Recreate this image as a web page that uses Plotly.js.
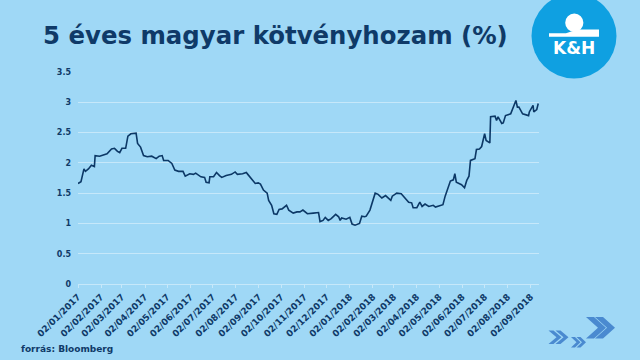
<!DOCTYPE html>
<html>
<head>
<meta charset="utf-8">
<script src="https://cdn.plot.ly/plotly-3.0.1.min.js"></script>
<style>
  html, body { margin: 0; padding: 0; background: #9fd8f6; }
  #chart { width: 640px; height: 360px; }
</style>
</head>
<body>
<div id="chart"></div>
<script>
// ---- data ----
const dates = [
  '2017-01-02','2017-01-06','2017-01-10','2017-01-12','2017-01-16','2017-01-20','2017-01-24','2017-01-25','2017-01-31',
  '2017-02-07','2017-02-10','2017-02-16','2017-02-20','2017-02-24','2017-02-27',
  '2017-03-02','2017-03-07','2017-03-10','2017-03-14','2017-03-21','2017-03-23','2017-03-27','2017-03-31',
  '2017-04-05','2017-04-11','2017-04-17','2017-04-21','2017-04-25','2017-04-27',
  '2017-05-03','2017-05-08','2017-05-12','2017-05-17','2017-05-23','2017-05-26',
  '2017-06-01','2017-06-06','2017-06-09','2017-06-16','2017-06-21','2017-06-23','2017-06-27','2017-06-28',
  '2017-07-03','2017-07-07','2017-07-11','2017-07-14','2017-07-20','2017-07-27',
  '2017-08-01','2017-08-04','2017-08-11','2017-08-16','2017-08-18','2017-08-24','2017-08-28',
  '2017-09-01','2017-09-04','2017-09-08','2017-09-13','2017-09-15','2017-09-19','2017-09-22','2017-09-26','2017-09-29',
  '2017-10-03','2017-10-09','2017-10-12','2017-10-18','2017-10-23','2017-10-27','2017-10-31',
  '2017-11-06','2017-11-09','2017-11-14','2017-11-21','2017-11-23','2017-11-27','2017-11-30',
  '2017-12-04','2017-12-08','2017-12-14','2017-12-18','2017-12-20','2017-12-22','2017-12-28',
  '2018-01-02','2018-01-05','2018-01-09','2018-01-15','2018-01-18','2018-01-22','2018-01-24','2018-01-29','2018-01-31',
  '2018-02-02','2018-02-05','2018-02-09','2018-02-14','2018-02-19','2018-02-22','2018-02-26','2018-02-28',
  '2018-03-06','2018-03-12','2018-03-16','2018-03-22','2018-03-26','2018-03-28',
  '2018-04-02','2018-04-06','2018-04-09','2018-04-13','2018-04-18','2018-04-24','2018-04-27',
  '2018-05-03','2018-05-07','2018-05-10','2018-05-14','2018-05-17','2018-05-21','2018-05-23','2018-05-25','2018-05-29',
  '2018-06-01','2018-06-05','2018-06-08','2018-06-11','2018-06-13','2018-06-19','2018-06-21','2018-06-25','2018-06-28',
  '2018-07-02','2018-07-04','2018-07-09','2018-07-10','2018-07-16','2018-07-18','2018-07-20','2018-07-25','2018-07-27','2018-07-30',
  '2018-08-06','2018-08-09','2018-08-13','2018-08-15','2018-08-17','2018-08-22','2018-08-28','2018-08-30','2018-08-31',
  '2018-09-05','2018-09-06','2018-09-10','2018-09-12'
];
const yields = [
  1.66,1.69,1.90,1.86,1.90,1.96,1.94,2.12,2.11,
  2.13,2.15,2.23,2.24,2.19,2.17,
  2.24,2.24,2.44,2.48,2.49,2.32,2.26,2.12,
  2.10,2.11,2.07,2.11,2.12,2.04,
  2.04,1.99,1.88,1.86,1.86,1.78,
  1.82,1.81,1.83,1.77,1.76,1.68,1.67,1.77,
  1.77,1.84,1.79,1.76,1.79,1.81,
  1.85,1.81,1.82,1.84,1.81,1.71,1.66,
  1.67,1.65,1.55,1.50,1.38,1.30,1.16,1.15,1.23,
  1.24,1.30,1.22,1.17,1.19,1.19,1.22,
  1.16,1.16,1.17,1.18,1.03,1.05,1.10,
  1.05,1.08,1.15,1.11,1.05,1.09,1.07,
  1.10,0.99,0.97,1.00,1.12,1.11,1.12,1.22,1.30,
  1.41,1.50,1.48,1.42,1.46,1.42,1.38,1.45,
  1.50,1.49,1.44,1.35,1.34,1.26,
  1.26,1.35,1.28,1.32,1.28,1.30,1.27,
  1.30,1.31,1.45,1.60,1.70,1.72,1.82,1.68,1.66,
  1.64,1.59,1.71,1.78,2.04,2.07,2.22,2.23,2.27,
  2.48,2.37,2.33,2.76,2.77,2.70,2.76,2.65,2.66,2.78,
  2.81,2.91,3.03,2.92,2.92,2.81,2.78,2.78,2.84,
  2.95,2.84,2.88,2.98
];
const tickDates = [
  '2017-01-02','2017-02-02','2017-03-02','2017-04-02','2017-05-02','2017-06-02','2017-07-02',
  '2017-08-02','2017-09-02','2017-10-02','2017-11-02','2017-12-02','2018-01-02','2018-02-02',
  '2018-03-02','2018-04-02','2018-05-02','2018-06-02','2018-07-02','2018-08-02','2018-09-02'
];
const tickLabels = [
  '02/01/2017','02/02/2017','02/03/2017','02/04/2017','02/05/2017','02/06/2017','02/07/2017',
  '02/08/2017','02/09/2017','02/10/2017','02/11/2017','02/12/2017','02/01/2018','02/02/2018',
  '02/03/2018','02/04/2018','02/05/2018','02/06/2018','02/07/2018','02/08/2018','02/09/2018'
];
const titleText = '5 éves magyar kötvényhozam (%)';
const sourceText = 'forrás: Bloomberg';

// ---- layout helpers (pixel -> paper) ----
const W = 640, H = 360, L = 78, R = 101, T = 72, B = 76;
const PW = W - L - R, PH = H - T - B;
const px = x => (x - L) / PW;
const py = y => (H - B - y) / PH;
function pathOf(pts) {
  return 'M' + pts.map(p => px(p[0]).toFixed(5) + ',' + py(p[1]).toFixed(5)).join(' L') + ' Z';
}
function chevron(x0, y0, w, h, t) {
  return pathOf([[x0, y0], [x0 + t, y0], [x0 + w, y0 + h / 2], [x0 + t, y0 + h], [x0, y0 + h], [x0 + w - t, y0 + h / 2]]);
}

const navy = '#0f3a68';
const grid = '#c6e8fa';
const bg = '#9fd8f6';
const arrowBlue = '#4a8ad0';
const fontFam = 'DejaVu Sans, Verdana, sans-serif';

const shapes = [
  {type: 'circle', xref: 'paper', yref: 'paper', x0: px(531.5), x1: px(616.5), y0: py(78.5), y1: py(-6.5),
   fillcolor: '#0fa0e1', line: {width: 0}, layer: 'above'},
  {type: 'circle', xref: 'paper', yref: 'paper', x0: px(565.2), x1: px(583.4), y0: py(31.8), y1: py(13.6),
   fillcolor: '#ffffff', line: {width: 0}, layer: 'above'},
  {type: 'path', xref: 'paper', yref: 'paper', layer: 'above',
   path: pathOf([[549, 33.2], [566, 33.2], [572, 31.2], [580, 29.4], [599, 29.4], [599, 36.8], [549, 36.8]]),
   fillcolor: '#ffffff', line: {width: 0}},
  {type: 'path', xref: 'paper', yref: 'paper', path: chevron(548.5, 330.5, 13, 13.5, 5), fillcolor: arrowBlue, line: {width: 0}},
  {type: 'path', xref: 'paper', yref: 'paper', path: chevron(555.5, 330.5, 13, 13.5, 5), fillcolor: arrowBlue, line: {width: 0}},
  {type: 'path', xref: 'paper', yref: 'paper', path: chevron(571, 337, 9.5, 10.5, 4), fillcolor: arrowBlue, line: {width: 0}},
  {type: 'path', xref: 'paper', yref: 'paper', path: chevron(576.5, 337, 9.5, 10.5, 4), fillcolor: arrowBlue, line: {width: 0}},
  {type: 'path', xref: 'paper', yref: 'paper', path: chevron(586, 317, 20, 21.5, 8), fillcolor: arrowBlue, line: {width: 0}},
  {type: 'path', xref: 'paper', yref: 'paper', path: chevron(595, 317, 20, 21.5, 8), fillcolor: arrowBlue, line: {width: 0}}
];

const annotations = [
  {xref: 'paper', yref: 'paper', x: px(574), y: py(47.6), xanchor: 'center', yanchor: 'middle',
   text: 'K&amp;H', showarrow: false,
   font: {family: fontFam, size: 17, weight: 'bold', color: '#ffffff'}},
  {xref: 'paper', yref: 'paper', x: px(19), y: py(348.5), xanchor: 'left', yanchor: 'middle',
   text: sourceText, showarrow: false,
   font: {family: fontFam, size: 9, weight: 'bold', color: navy}}
];

const trace = {
  x: dates, y: yields, type: 'scatter', mode: 'lines',
  line: {color: '#0c3866', width: 1.6},
  hoverinfo: 'skip'
};

const layout = {
  width: W, height: H,
  margin: {l: L, r: R, t: T, b: B, pad: 0},
  paper_bgcolor: bg, plot_bgcolor: bg,
  showlegend: false,
  title: {
    text: titleText, xref: 'container', yref: 'container',
    x: 43 / W, xanchor: 'left', y: 1 - 35 / H, yanchor: 'middle',
    font: {family: fontFam, size: 24.4, weight: 'bold', color: navy}
  },
  xaxis: {
    type: 'date', range: ['2017-01-02', '2018-09-13'],
    tickmode: 'array', tickvals: tickDates, ticktext: tickLabels,
    tickangle: -45,
    tickfont: {family: fontFam, size: 9, weight: 'bold', color: navy},
    showgrid: false, zeroline: false,
    showline: true, linecolor: grid, linewidth: 1,
    ticks: 'outside', ticklen: 3, tickcolor: grid, tickwidth: 1,
    fixedrange: true
  },
  yaxis: {
    range: [0, 3.5], tick0: 0, dtick: 0.5,
    showgrid: true, gridcolor: grid, gridwidth: 1,
    zeroline: false, showline: false, ticks: '',
    ticklabelstandoff: 6,
    tickfont: {family: fontFam, size: 8, weight: 'bold', color: navy},
    fixedrange: true
  },
  shapes: shapes,
  annotations: annotations
};

Plotly.newPlot('chart', [trace], layout, {displayModeBar: false, staticPlot: true});
</script>
</body>
</html>
